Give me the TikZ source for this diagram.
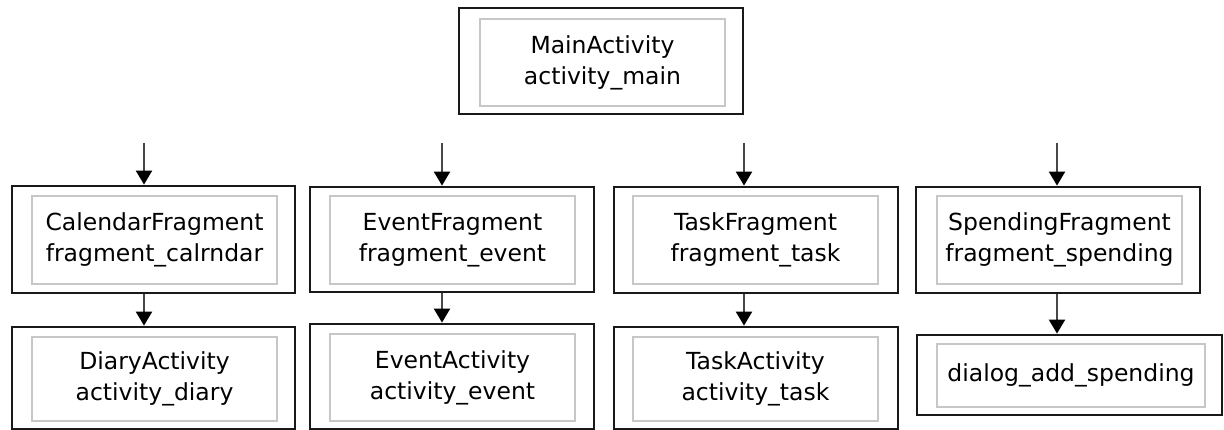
\documentclass[tikz,border=0pt]{standalone}
\usepackage{fontspec}
\setmainfont{DejaVu Sans}
\usetikzlibrary{arrows.meta}
\begin{document}
\begin{tikzpicture}[x=1pt,y=-1pt,
  outerbox/.style={draw=black!90,line width=2.8pt,rectangle,inner sep=0pt,minimum width=#1},
  innerbox/.style={draw=black!22,line width=1.5pt,rectangle,inner sep=0pt,align=center,
    font=\fontsize{23.5}{31}\selectfont,minimum width=#1},
  arr/.style={draw=black!72,line width=2.2pt,-{Triangle[width=16pt,length=14pt,fill=black,color=black]}}]
\useasboundingbox (0,0) rectangle (1224,430);

% top level
\node[outerbox=284pt,minimum height=106pt] (mainO) at (601,61) {};
\node[innerbox=245pt,minimum height=87pt] (main) at (602.5,62.5) {MainActivity\\activity\_main};

% fragments
\node[outerbox=283pt,minimum height=107pt] (calO) at (153.5,239.5) {};
\node[innerbox=245pt,minimum height=88pt] (cal) at (154.5,240) {CalendarFragment\\fragment\_calrndar};
\node[outerbox=284pt,minimum height=105pt] (evO) at (452,239.5) {};
\node[innerbox=245pt,minimum height=88pt] (ev) at (452.5,240) {EventFragment\\fragment\_event};
\node[outerbox=284pt,minimum height=106pt] (taskO) at (756,240) {};
\node[innerbox=245pt,minimum height=88pt] (task) at (755.5,240) {TaskFragment\\fragment\_task};
\node[outerbox=284pt,minimum height=106pt] (spO) at (1058,240) {};
\node[innerbox=245pt,minimum height=88pt] (sp) at (1059.5,240) {SpendingFragment\\fragment\_spending};

% screens opened from the fragments
\node[outerbox=283pt,minimum height=102pt] (diaryO) at (153.5,378) {};
\node[innerbox=245pt,minimum height=84pt] (diary) at (154.5,379) {DiaryActivity\\activity\_diary};
\node[outerbox=284pt,minimum height=105pt] (evaO) at (452,376.5) {};
\node[innerbox=245pt,minimum height=87pt] (eva) at (452.5,377.5) {EventActivity\\activity\_event};
\node[outerbox=284pt,minimum height=102pt] (taskaO) at (756,378) {};
\node[innerbox=245pt,minimum height=84pt] (taska) at (755.5,379) {TaskActivity\\activity\_task};
\node[outerbox=305pt,minimum height=80pt] (dlgO) at (1069.5,375) {};
\node[innerbox=268pt,minimum height=63pt] (dlg) at (1071,375.5) {dialog\_add\_spending};

% arrow tails below the top box
\coordinate (t1) at (144,143);
\coordinate (t2) at (442,143);
\coordinate (t3) at (744,143);
\coordinate (t4) at (1057,143);

\draw[arr] (t1) -- (t1 |- calO.north);
\draw[arr] (t2) -- (t2 |- evO.north);
\draw[arr] (t3) -- (t3 |- taskO.north);
\draw[arr] (t4) -- (t4 |- spO.north);

\draw[arr] (t1 |- calO.south) -- (t1 |- diaryO.north);
\draw[arr] (t2 |- evO.south) -- (t2 |- evaO.north);
\draw[arr] (t3 |- taskO.south) -- (t3 |- taskaO.north);
\draw[arr] (t4 |- spO.south) -- (t4 |- dlgO.north);
\end{tikzpicture}
\end{document}
